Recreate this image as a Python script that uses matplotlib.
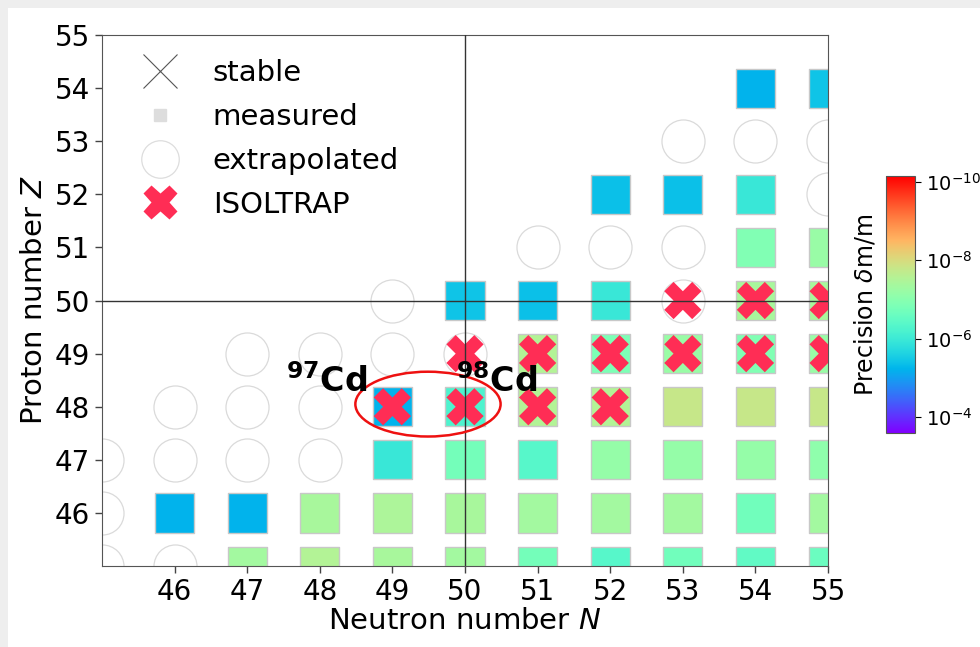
import numpy as np
import matplotlib
matplotlib.use("Agg")
import matplotlib.pyplot as plt
from matplotlib.colors import LogNorm
from matplotlib.lines import Line2D
from matplotlib.patches import Ellipse, Rectangle

# ---------------- data ----------------
# measured nuclides: neutron number N, proton number Z, relative mass precision dm/m
meas_N = [54, 55,
          52, 53, 54,
          54, 55,
          50, 51, 52, 54, 55,
          51, 52, 53, 54, 55,
          49, 50, 51, 52, 53, 54, 55,
          49, 50, 51, 52, 53, 54, 55,
          46, 47, 48, 49, 50, 51, 52, 53, 54, 55,
          47, 48, 49, 50, 51, 52, 53, 54, 55]
meas_Z = [54, 54,
          52, 52, 52,
          51, 51,
          50, 50, 50, 50, 50,
          49, 49, 49, 49, 49,
          48, 48, 48, 48, 48, 48, 48,
          47, 47, 47, 47, 47, 47, 47,
          46, 46, 46, 46, 46, 46, 46, 46, 46, 46,
          45, 45, 45, 45, 45, 45, 45, 45, 45]
meas_prec = [5.8e-6, 3.7e-6,
             4.3e-6, 4.3e-6, 1.1e-6,
             1.3e-7, 6.3e-8,
             3.7e-6, 4.3e-6, 1.1e-6, 4.0e-8, 4.0e-8,
             3.0e-8, 1.5e-7, 6.3e-8, 1.3e-7, 6.3e-8,
             5.8e-6, 6.0e-7, 3.0e-8, 3.0e-8, 1.6e-8, 1.6e-8, 1.6e-8,
             1.1e-6, 1.8e-7, 4.5e-7, 7.3e-8, 7.3e-8, 7.3e-8, 8.5e-8,
             5.8e-6, 5.8e-6, 4.0e-8, 3.5e-8, 4.0e-8, 4.7e-8, 4.7e-8, 4.7e-8, 2.1e-7, 4.7e-8,
             4.7e-8, 3.0e-8, 4.0e-8, 4.7e-8, 1.8e-7, 4.5e-7, 2.1e-7, 3.3e-7, 2.5e-7]

# extrapolated nuclides
extr_N = [53, 54, 55, 55, 51, 52, 53, 49, 53, 47, 48, 49, 50, 46, 47, 48, 45, 46, 47, 48, 45, 45, 46]
extr_Z = [53, 53, 53, 52, 51, 51, 51, 50, 50, 49, 49, 49, 49, 48, 48, 48, 47, 47, 47, 47, 46, 45, 45]

# ISOLTRAP measurements
iso_N = [53, 54, 55, 50, 51, 52, 53, 54, 55, 49, 50, 51, 52]
iso_Z = [50, 50, 50, 49, 49, 49, 49, 49, 49, 48, 48, 48, 48]

x_ticks = [46, 47, 48, 49, 50, 51, 52, 53, 54, 55]
y_ticks = [46, 47, 48, 49, 50, 51, 52, 53, 54, 55]
cbar_ticks = [1e-10, 1e-8, 1e-6, 1e-4]
magic = 50

# ---------------- figure ----------------
fig = plt.figure(figsize=(9.8, 6.47), dpi=100)
fig.patches.append(Rectangle((0, 1 - 8 / 647), 1, 8 / 647, transform=fig.transFigure,
                             facecolor='#eeeeee', edgecolor='none', zorder=0))
fig.patches.append(Rectangle((0, 0), 8 / 980, 1, transform=fig.transFigure,
                             facecolor='#eeeeee', edgecolor='none', zorder=0))

ax = fig.add_axes([0.104, 0.125, 0.741, 0.821])
cax = fig.add_axes([0.904, 0.331, 0.030, 0.397])

norm = LogNorm(vmin=10 ** -10.15, vmax=10 ** -3.6)
cmap = plt.get_cmap('rainbow_r')

ax.scatter(extr_N, extr_Z, s=960, marker='o', facecolor='white',
           edgecolor='#dadada', linewidth=0.9, zorder=1)
sc = ax.scatter(meas_N, meas_Z, c=meas_prec, cmap=cmap, norm=norm, s=790, marker='s',
                edgecolor='#c8c8c8', linewidth=1.0, zorder=2)
ax.scatter(iso_N, iso_Z, s=720, marker='X', color='#ff2d55', edgecolor='none', zorder=3)

ax.axhline(magic, color='#333333', lw=1.0, zorder=4)
ax.axvline(magic, color='#333333', lw=1.0, zorder=4)

ax.add_patch(Ellipse((49.49, 48.05), 2.0, 1.22, facecolor='none', edgecolor='#ee1111',
                     lw=1.8, zorder=5))
ax.text(48.09, 48.47, r'$^{\mathbf{97}}$Cd', fontsize=24, fontweight='bold',
        ha='center', va='center', zorder=6)
ax.text(50.44, 48.47, r'$^{\mathbf{98}}$Cd', fontsize=24, fontweight='bold',
        ha='center', va='center', zorder=6)

ax.set_xlim(45, 55)
ax.set_ylim(45, 55)
ax.set_xticks(x_ticks)
ax.set_yticks(y_ticks)
ax.tick_params(labelsize=20, length=5, width=1, color='#444444')
for sp in ax.spines.values():
    sp.set_color('#555555')
ax.set_xlabel(r'Neutron number $N$', fontsize=21, labelpad=1)
ax.set_ylabel(r'Proton number $Z$', fontsize=21, labelpad=5)

handles = [
    Line2D([], [], ls='none', marker='x', ms=24.5, mew=0.8, color='#555555'),
    Line2D([], [], ls='none', marker='s', ms=8.6, color='#dddddd', mec='#dddddd'),
    Line2D([], [], ls='none', marker='o', ms=27, mfc='white', mec='#dddddd', mew=0.9),
    Line2D([], [], ls='none', marker='X', ms=24.5, color='#ff2d55', mec='none'),
]
labels = ['stable', 'measured', 'extrapolated', 'ISOLTRAP']
ax.legend(handles, labels, loc='upper left', bbox_to_anchor=(0.040, 0.954), frameon=False,
          fontsize=21, borderaxespad=0, borderpad=0, handlelength=2.0,
          handletextpad=0.8, labelspacing=0.54)

cb = fig.colorbar(sc, cax=cax)
cb.ax.invert_yaxis()
cb.set_ticks(cbar_ticks)
cb.ax.minorticks_off()
cb.ax.tick_params(labelsize=14, length=4)
cb.outline.set_edgecolor('#555555')
cb.ax.yaxis.set_label_position('left')
cb.set_label(r'Precision $\delta$m/m', fontsize=17, labelpad=6)

fig.savefig('out.png', dpi=100)
